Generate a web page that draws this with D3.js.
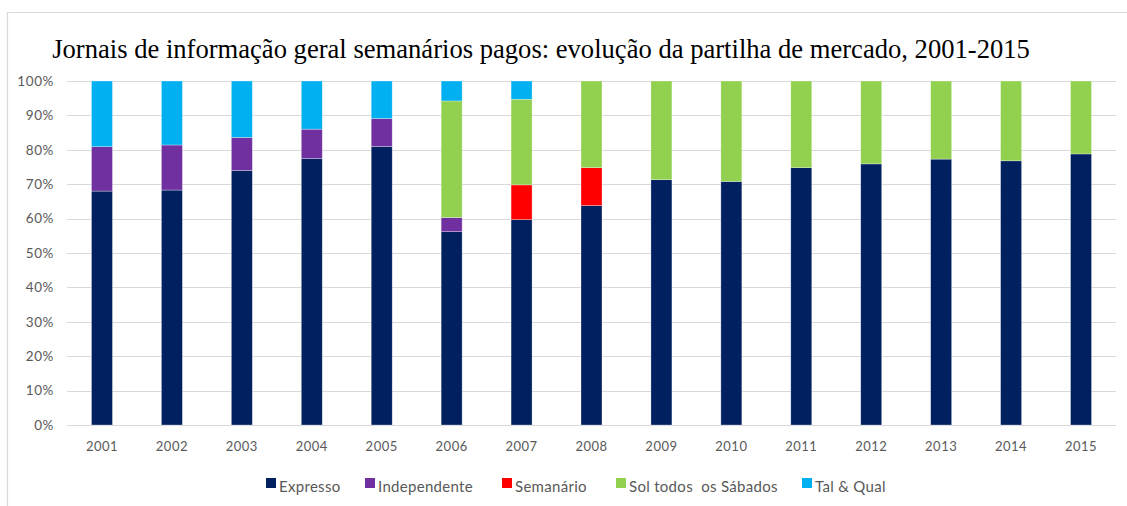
<!DOCTYPE html>
<html>
<head>
<meta charset="utf-8">
<script src="https://cdn.jsdelivr.net/npm/d3@7"></script>
<style>
  body { margin: 0; background: #fff; }
  svg { display: block; }
</style>
</head>
<body>
<svg id="chart" width="1127" height="506"></svg>
<script>
// data (share of market, %)
var years = ["2001","2002","2003","2004","2005","2006","2007","2008","2009","2010","2011","2012","2013","2014","2015"];
var expresso     = [68.0, 68.3, 74.0, 77.5, 81.0, 56.2, 59.7, 63.8, 71.3, 70.8, 74.8, 75.9, 77.3, 76.8, 78.8];
var independente = [12.9, 13.1,  9.6,  8.5,  8.1,  4.1,  0,    0,    0,    0,    0,    0,    0,    0,    0  ];
var semanario    = [0,    0,    0,    0,    0,    0,   10.1, 11.0,  0,    0,    0,    0,    0,    0,    0  ];
var sol          = [0,    0,    0,    0,    0,   33.9, 24.9, 25.2, 28.7, 29.2, 25.2, 24.1, 22.7, 23.2, 21.2];
var talQual      = [19.1, 18.6, 16.4, 14.0, 10.9,  5.8,  5.3,  0,    0,    0,    0,    0,    0,    0,    0  ];
var seriesNames  = ["Expresso", "Independente", "Semanário", "Sol todos  os Sábados", "Tal & Qual"];
var yTicks = [0, 10, 20, 30, 40, 50, 60, 70, 80, 90, 100];

var colors = ["#002060", "#7030A0", "#FF0000", "#92D050", "#00B0F0"];
var keys = ["expresso", "independente", "semanario", "sol", "talQual"];

var rows = years.map(function(y, i) {
  return { year: y, expresso: expresso[i], independente: independente[i],
           semanario: semanario[i], sol: sol[i], talQual: talQual[i] };
});

var svg = d3.select("#chart");
var font = "Lato, 'Open Sans', sans-serif";

// frame
svg.append("path")
    .attr("d", "M7.5,506 V12.5 H1127")
    .attr("fill", "none")
    .attr("stroke", "#d9d9d9")
    .attr("stroke-width", 1.2);

// title
svg.append("text")
    .attr("x", 541)
    .attr("y", 58)
    .attr("text-anchor", "middle")
    .style("font-family", "'Liberation Serif', 'Times New Roman', serif")
    .style("font-size", "26.6px")
    .style("fill", "#000")
    .text("Jornais de informação geral semanários pagos: evolução da partilha de mercado, 2001-2015");

var x = d3.scaleBand()
    .domain(years)
    .range([67, 1116])
    .paddingInner(0.7)
    .paddingOuter(0.35);

var y = d3.scaleLinear()
    .domain([0, 100])
    .range([425, 81]);

// gridlines
svg.append("g").selectAll("line")
    .data(yTicks)
  .enter().append("line")
    .attr("x1", 67)
    .attr("x2", 1116)
    .attr("y1", function(d) { return Math.round(y(d)) + 0.5; })
    .attr("y2", function(d) { return Math.round(y(d)) + 0.5; })
    .attr("stroke", "#d9d9d9")
    .attr("stroke-width", 1.2);

// y labels
svg.append("g").selectAll("text")
    .data(yTicks)
  .enter().append("text")
    .attr("x", 54)
    .attr("y", function(d) { return y(d); })
    .attr("dy", "0.35em")
    .attr("text-anchor", "end")
    .style("font-family", font)
    .style("font-size", "13.5px")
    .style("letter-spacing", "0.6px")
    .style("fill", "#595959")
    .text(function(d) { return d + "%"; });

// x labels
svg.append("g").selectAll("text")
    .data(years)
  .enter().append("text")
    .attr("x", function(d) { return x(d) + x.bandwidth() / 2; })
    .attr("y", 451)
    .attr("text-anchor", "middle")
    .style("font-family", font)
    .style("font-size", "13px")
    .style("letter-spacing", "0.5px")
    .style("fill", "#595959")
    .text(function(d) { return d; });

// stacked bars
var stack = d3.stack().keys(keys);
var layers = stack(rows);

svg.append("g").selectAll("g")
    .data(layers)
  .enter().append("g")
    .attr("fill", function(d, i) { return colors[i]; })
  .selectAll("rect")
    .data(function(d) { return d.filter(function(p) { return p[1] - p[0] > 0; }); })
  .enter().append("rect")
    .attr("x", function(d) { return x(d.data.year); })
    .attr("y", function(d) { return y(d[1]); })
    .attr("width", x.bandwidth())
    .attr("height", function(d) { return y(d[0]) - y(d[1]); })
    .attr("stroke", "#ffffff")
    .attr("stroke-opacity", 0.5)
    .attr("stroke-width", 0.6);

// legend
var legendX = [266, 365, 502, 616, 802];
var legend = svg.append("g").selectAll("g")
    .data(seriesNames)
  .enter().append("g")
    .attr("transform", function(d, i) { return "translate(" + legendX[i] + ",478)"; });

legend.append("rect")
    .attr("width", 10)
    .attr("height", 10)
    .attr("fill", function(d, i) { return colors[i]; });

legend.append("text")
    .attr("x", 13)
    .attr("y", 13.5)
    .style("font-family", font)
    .style("font-size", "15px")
    .style("letter-spacing", "0.3px")
    .style("fill", "#595959")
    .style("white-space", "pre")
    .text(function(d) { return d; });
</script>
</body>
</html>
